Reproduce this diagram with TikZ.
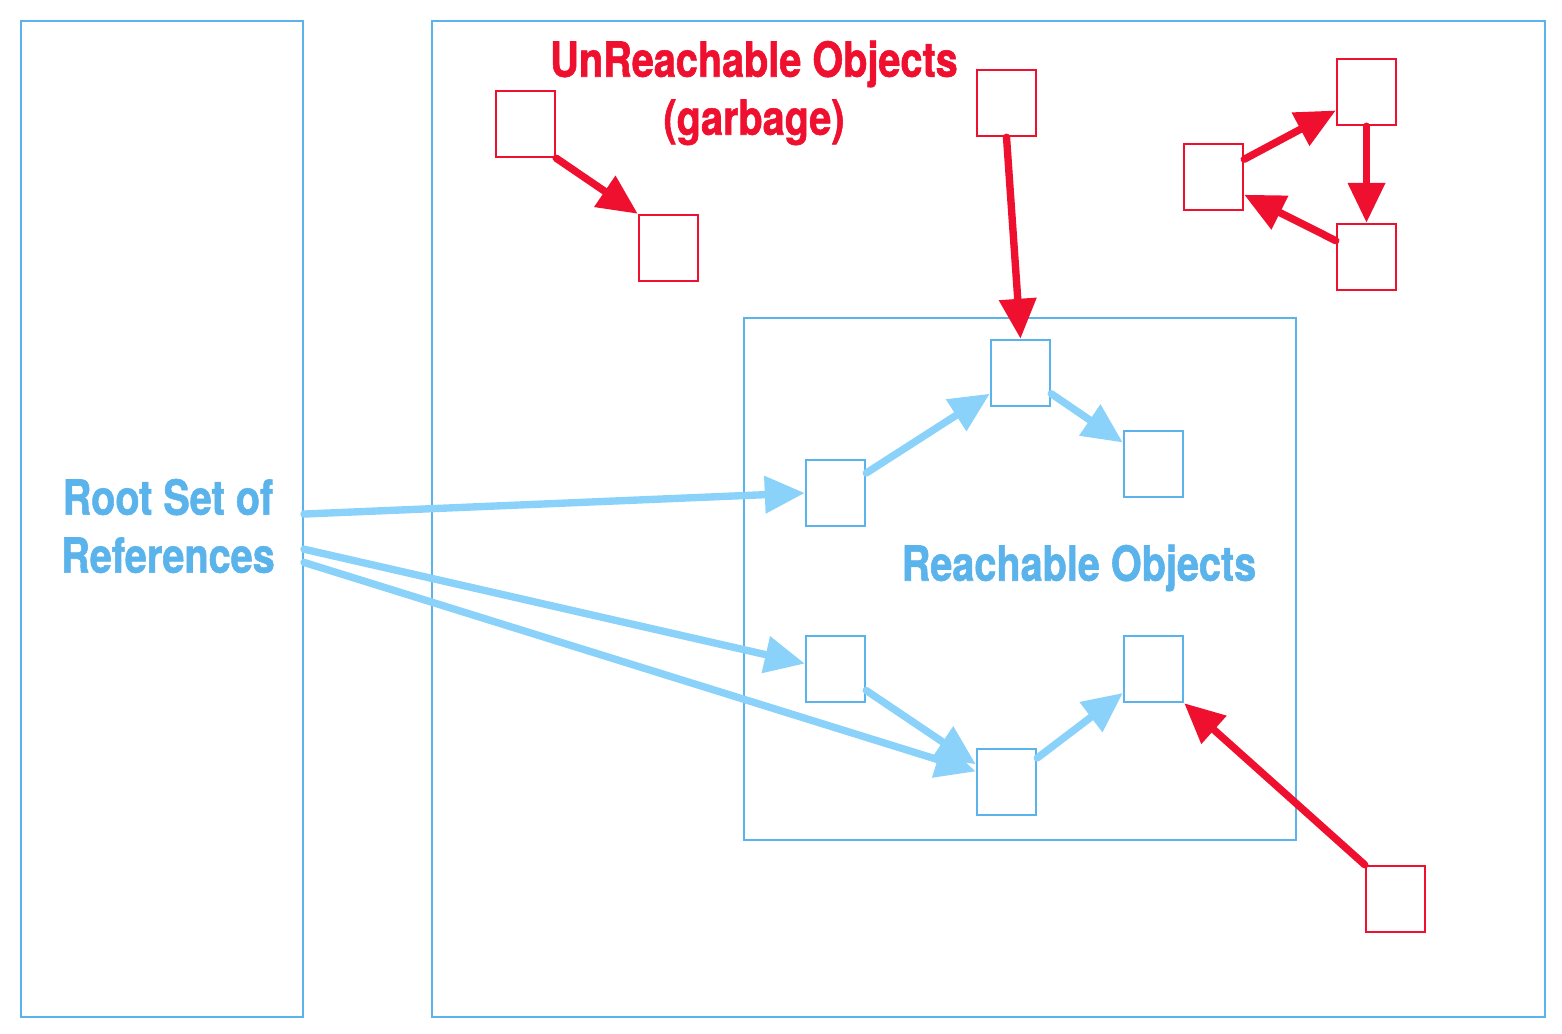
\documentclass[tikz,border=0pt]{standalone}
\usepackage{fontspec}
\newfontfamily\labelfont[FakeStretch=0.82, FakeBold=1.2]{TeX Gyre Heros}
\usepackage{tikz}
\usetikzlibrary{arrows.meta, positioning, calc}

\definecolor{boxblue}{HTML}{5AB3EA}
\definecolor{arrowblue}{HTML}{8BD2FA}
\definecolor{garbred}{HTML}{EE102E}

\begin{document}
\begin{tikzpicture}[
    x=0.02cm, y=-0.02cm,
    region/.style={rectangle, draw=boxblue, line width=1.1pt, inner sep=0pt},
    obj/.style={rectangle, line width=1.1pt, minimum width=1.19cm, minimum height=1.33cm, inner sep=0pt},
    live/.style={obj, draw=boxblue},
    dead/.style={obj, draw=garbred},
    title/.style={font=\labelfont\bfseries\fontsize{27.5}{33}\selectfont, align=center},
    ref/.style={line width=4.2pt, line cap=round, draw=arrowblue, -{Triangle[length=0.8cm, width=0.72cm]}},
    garbref/.style={line width=4.2pt, line cap=round, draw=garbred, -{Triangle[length=0.8cm, width=0.72cm]}}
]
\useasboundingbox (0,0) rectangle (1562,1034);

% REGIONS
\node[region, minimum width=5.64cm, minimum height=19.92cm] (Root) at (162,519) {};
\node[region, minimum width=22.26cm, minimum height=19.92cm] (Heap) at (988.5,519) {};
\node[region, minimum width=11.04cm, minimum height=10.44cm] (Live) at (1020,579) {};

% LABELS
\node[title, text=boxblue] (RootLbl) at (168,526) {Root Set of\\References};
\node[title, text=garbred] (DeadLbl) at (754,93) {UnReachable Objects\\(garbage)};
\node[title, text=boxblue] (LiveLbl) at (1079,568) {Reachable Objects};

% REACHABLE OBJECTS
\node[live] (B1) at (835.5,493) {};
\node[live] (B2) at (1020.5,373) {};
\node[live] (B3) at (1153.5,464) {};
\node[live] (B4) at (835.5,669) {};
\node[live] (B5) at (1006.5,782) {};
\node[live] (B6) at (1153.5,669) {};

% UNREACHABLE OBJECTS
\node[dead] (R1) at (525.5,124) {};
\node[dead] (R2) at (668.5,248) {};
\node[dead] (R3) at (1006.5,103) {};
\node[dead] (R4) at (1213.5,177) {};
\node[dead] (R5) at (1366.5,92) {};
\node[dead] (R6) at (1366.5,257) {};
\node[dead] (R7) at (1395.5,899) {};

% Connections from the root set
\draw[ref] (Root.2) -- (B1.west);
\draw[ref] (Root.-12) -- (B4.170);
\draw[ref] (Root.-17) -- (B5.161);

% Connections between live objects
\draw[ref] (B1.33) -- (B2.214);
\draw[ref] (B2.-34) -- (B3.145);
\draw[ref] (B4.-35) -- (B5.150);
\draw[ref] (B5.38) -- (B6.218);

% Connections from garbage
\draw[garbref] (R1.south east) -- (R2.north west);
\draw[garbref] (R3.south) -- (B2.north);
\draw[garbref] (R4.30) -- (R5.211);
\draw[garbref] (R5.south) -- (R6.north);
\draw[garbref] (R6.152) -- (R4.-30);
\draw[garbref] (R7.north west) -- (B6.south east);

\end{tikzpicture}
\end{document}
